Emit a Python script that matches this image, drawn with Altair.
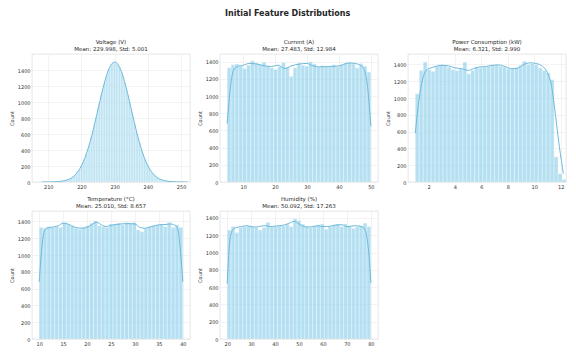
import altair as alt
import numpy as np
import pandas as pd

FONT = "DejaVu Sans"
BAR = "#87CEEB"
LINE = "#6fb9d9"

# ---------------- data ----------------
volt_start, volt_width = 207.75, 0.5
volt_counts = [0, 0, 1, 0, 1, 1, 2, 2, 3, 4, 5, 8, 10, 13, 18, 23, 31, 40, 52, 68,
               85, 108, 136, 163, 206, 244, 300, 351, 420, 484, 566, 641, 735, 816, 913,
               998, 1093, 1170, 1257, 1320, 1389, 1430, 1474, 1489, 1502, 1490, 1468,
               1437, 1381, 1327, 1249, 1177, 1087, 1004, 907, 823, 728, 648, 560, 490,
               414, 357, 294, 249, 201, 168, 132, 105, 86, 64, 50, 40, 29, 22, 16, 12,
               9, 6, 4, 3, 2, 2, 1, 1, 0, 1, 0]
volt_kde_x = list(range(208, 253))
volt_kde_y = [0, 1, 1, 2, 3, 5, 10, 17, 30, 51, 84, 134, 203, 297, 417, 563, 731, 910,
              1090, 1253, 1385, 1470, 1500, 1470, 1385, 1253, 1090, 910, 731, 563, 417,
              297, 203, 134, 84, 51, 30, 17, 10, 5, 3, 1, 1, 0, 0]

curr_start, curr_end = 5.0, 50.0
curr_counts = [1330, 1365, 1375, 1350, 1320, 1360, 1410, 1385, 1370, 1395, 1350, 1330,
               1310, 1345, 1390, 1340, 1230, 1330, 1385, 1360, 1350, 1400, 1375, 1340,
               1355, 1345, 1350, 1365, 1340, 1370, 1385, 1395, 1375, 1330, 1380, 1350, 1280]
curr_kde_x = [5, 6, 7, 8, 10, 12, 14, 17, 19, 21, 23, 25, 28, 30, 32, 34, 37, 40, 43, 45, 47, 48, 49, 50]
curr_kde_y = [680, 1100, 1300, 1340, 1360, 1380, 1375, 1350, 1345, 1360, 1320, 1350, 1375,
              1380, 1350, 1340, 1345, 1350, 1385, 1380, 1350, 1300, 1100, 650]

pow_start, pow_end = 1.0, 12.4
pow_counts = [1050, 1330, 1430, 1340, 1320, 1380, 1400, 1390, 1370, 1340, 1330, 1350,
              1430, 1290, 1330, 1370, 1360, 1370, 1380, 1390, 1395, 1380, 1370, 1350,
              1350, 1360, 1390, 1440, 1400, 1410, 1400, 1360, 1330, 1300, 1220, 300, 100, 30]
pow_kde_x = [1.0, 1.3, 1.6, 1.9, 2.2, 2.6, 3.0, 3.5, 4.0, 4.5, 5.0, 5.4, 5.8, 6.3, 6.8,
             7.3, 7.8, 8.3, 8.7, 9.2, 9.7, 10.2, 10.6, 11.0, 11.3, 11.6, 11.9, 12.2]
pow_kde_y = [580, 1000, 1250, 1340, 1360, 1380, 1390, 1385, 1360, 1350, 1330, 1350, 1370,
             1375, 1390, 1395, 1375, 1350, 1355, 1400, 1420, 1410, 1380, 1300, 1150, 800, 420, 100]

temp_start, temp_end = 10.0, 40.0
temp_counts = [1330, 1320, 1340, 1330, 1340, 1330, 1390, 1370, 1350, 1320, 1310, 1330,
               1350, 1380, 1410, 1350, 1340, 1330, 1370, 1370, 1380, 1360, 1390, 1380,
               1390, 1300, 1280, 1320, 1340, 1350, 1360, 1370, 1340, 1390, 1330, 1360, 1330]
temp_kde_x = [10, 10.5, 11, 11.5, 12.5, 14, 15, 16, 17.5, 19, 20.5, 22, 23, 24, 25, 27,
              28.5, 30, 31, 32, 33.5, 35, 36.5, 37.5, 38.5, 39, 39.5, 40]
temp_kde_y = [680, 1050, 1270, 1320, 1330, 1350, 1380, 1370, 1330, 1320, 1345, 1390, 1360,
              1340, 1355, 1370, 1375, 1370, 1330, 1320, 1340, 1360, 1365, 1370, 1350, 1300, 1050, 680]

hum_start, hum_end = 20.0, 80.0
hum_counts = [1260, 1300, 1230, 1290, 1300, 1310, 1300, 1290, 1260, 1290, 1350, 1300,
              1300, 1310, 1310, 1330, 1300, 1390, 1370, 1330, 1300, 1290, 1310, 1320,
              1330, 1270, 1300, 1320, 1330, 1300, 1330, 1310, 1280, 1300, 1310, 1340, 1300]
hum_kde_x = [20, 20.7, 21.5, 22.5, 24, 26, 28, 30, 32, 34, 36, 38, 40, 42, 44, 46, 48, 50,
             52, 54, 56, 58, 60, 62, 64, 66, 68, 70, 72, 74, 76, 77.5, 78.5, 79.3, 80]
hum_kde_y = [640, 1000, 1200, 1270, 1290, 1300, 1310, 1300, 1295, 1305, 1310, 1300, 1305,
             1310, 1320, 1340, 1360, 1330, 1300, 1295, 1300, 1310, 1300, 1300, 1310, 1320,
             1320, 1300, 1305, 1310, 1300, 1270, 1150, 950, 650]

titles = [
    ["Voltage (V)", "Mean: 229.998, Std: 5.001"],
    ["Current (A)", "Mean: 27.483, Std: 12.984"],
    ["Power Consumption (kW)", "Mean: 6.321, Std: 2.990"],
    ["Temperature (°C)", "Mean: 25.010, Std: 8.657"],
    ["Humidity (%)", "Mean: 50.092, Std: 17.263"],
]
y_ticks = [0, 200, 400, 600, 800, 1000, 1200, 1400]

W, H = 158, 128


def bins_frame(edges, counts):
    return pd.DataFrame({"x0": edges[:-1], "x1": edges[1:], "count": counts})


def panel(title, bdf, kx, ky, xdom, xticks, ymax):
    xs = alt.Scale(domain=xdom, nice=False, zero=False)
    ys = alt.Scale(domain=[0, ymax], nice=False)
    bars = alt.Chart(bdf).mark_bar(
        color=BAR, opacity=0.62, stroke="white", strokeWidth=0.4, clip=True
    ).encode(
        x=alt.X("x0:Q", scale=xs,
                axis=alt.Axis(values=xticks, tickCount=30, title=None, format="d")),
        x2="x1:Q",
        y=alt.Y("count:Q", scale=ys,
                axis=alt.Axis(values=y_ticks, tickCount=30, title="Count", format="d")),
        y2=alt.datum(0),
    )
    kdf = pd.DataFrame({"x": kx, "y": ky})
    line = alt.Chart(kdf).mark_line(
        color=LINE, strokeWidth=1, interpolate="monotone", clip=True
    ).encode(x=alt.X("x:Q", scale=xs), y=alt.Y("y:Q", scale=ys))
    return alt.layer(bars, line).properties(
        width=W, height=H,
        title=alt.TitleParams(title, fontSize=5.5, fontWeight="normal", color="#262626",
                              font=FONT, offset=2, lineHeight=7),
    )


volt_edges = volt_start + volt_width * np.arange(len(volt_counts) + 1)
curr_edges = np.linspace(curr_start, curr_end, len(curr_counts) + 1)
pow_edges = np.linspace(pow_start, pow_end, len(pow_counts) + 1)
temp_edges = np.linspace(temp_start, temp_end, len(temp_counts) + 1)
hum_edges = np.linspace(hum_start, hum_end, len(hum_counts) + 1)

p1 = panel(titles[0], bins_frame(volt_edges, volt_counts), volt_kde_x, volt_kde_y,
           [205.1, 252.7], [210, 220, 230, 240, 250], 1600)
p2 = panel(titles[1], bins_frame(curr_edges, curr_counts), curr_kde_x, curr_kde_y,
           [2.75, 52.25], [10, 20, 30, 40, 50], 1490)
p3 = panel(titles[2], bins_frame(pow_edges, pow_counts), pow_kde_x, pow_kde_y,
           [0.45, 12.4], [2, 4, 6, 8, 10, 12], 1525)
p4 = panel(titles[3], bins_frame(temp_edges, temp_counts), temp_kde_x, temp_kde_y,
           [8.5, 41.5], [10, 15, 20, 25, 30, 35, 40], 1525)
p5 = panel(titles[4], bins_frame(hum_edges, hum_counts), hum_kde_x, hum_kde_y,
           [17, 83], [20, 30, 40, 50, 60, 70, 80], 1480)

chart = alt.concat(p1, p2, p3, p4, p5, columns=3, spacing={"row": 29, "column": 30},
                   bounds="flush").properties(
    title=alt.TitleParams("Initial Feature Distributions", fontSize=8, fontWeight="bold",
                          font=FONT, color="#262626", anchor="middle", offset=21),
    padding={"left": 0, "top": 2, "right": 0, "bottom": 0},
).configure(font=FONT).configure_view(
    stroke="#d4d4d4", strokeWidth=0.6
).configure_axis(
    grid=True, gridColor="#ebebeb", gridWidth=0.6, domain=False, ticks=False,
    labelFontSize=5, labelColor="#333333", labelFont=FONT, labelPadding=2,
    labelOverlap=False, labelFlush=False,
    titleFontSize=5, titleFontWeight="normal", titleColor="#333333", titleFont=FONT,
    titlePadding=3,
)

chart.save("out.html", embed_options={"renderer": "svg", "actions": False})
